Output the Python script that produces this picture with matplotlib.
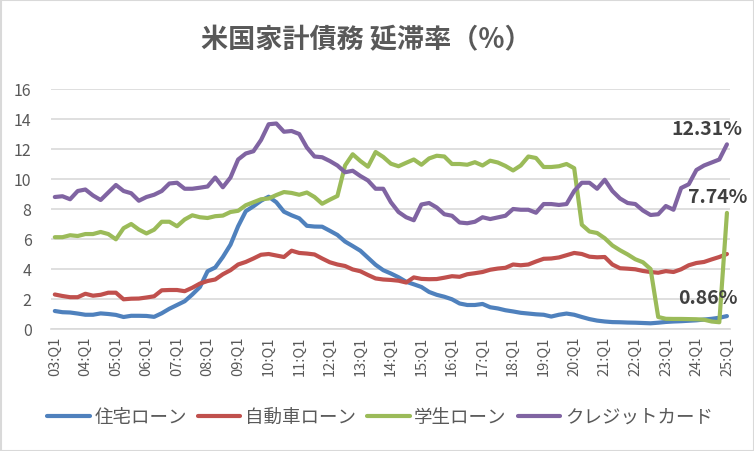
import matplotlib
matplotlib.use("Agg")
import matplotlib.pyplot as plt
from matplotlib.patches import Rectangle

plt.rcParams['font.family'] = ['Noto Sans CJK JP', 'DejaVu Sans']

# quarterly, 2003Q1 .. 2025Q1 (89 points)
quarters = [f"{y:02d}:Q{q}" for y in range(3, 26) for q in range(1, 5)][:89]

mortgage = [1.2, 1.12, 1.1, 1.03, 0.95, 0.95, 1.04, 1.0, 0.94, 0.8,
            0.88, 0.88, 0.87, 0.81, 1.05, 1.35, 1.6, 1.85, 2.3, 2.8,
            3.85, 4.1, 4.8, 5.62, 6.85, 7.85, 8.18, 8.55, 8.82, 8.45,
            7.82, 7.58, 7.38, 6.88, 6.83, 6.82, 6.55, 6.27, 5.83, 5.53,
            5.22, 4.75, 4.28, 3.92, 3.7, 3.45, 3.15, 2.98, 2.8, 2.47,
            2.28, 2.15, 1.98, 1.7, 1.6, 1.6, 1.67, 1.45, 1.37, 1.25,
            1.17, 1.08, 1.03, 0.98, 0.95, 0.83, 0.95, 1.03, 0.95, 0.8,
            0.66, 0.56, 0.5, 0.46, 0.45, 0.43, 0.42, 0.4, 0.38, 0.42,
            0.47, 0.5, 0.52, 0.55, 0.58, 0.63, 0.68, 0.75, 0.86]

auto = [2.3, 2.2, 2.12, 2.12, 2.35, 2.22, 2.28, 2.42, 2.42, 1.98,
        2.02, 2.03, 2.1, 2.18, 2.58, 2.6, 2.6, 2.52, 2.75, 3.03,
        3.2, 3.3, 3.65, 3.92, 4.3, 4.47, 4.7, 4.95, 5.0, 4.9,
        4.8, 5.22, 5.07, 5.03, 4.97, 4.7, 4.45, 4.3, 4.2, 3.97,
        3.85, 3.6, 3.37, 3.3, 3.27, 3.22, 3.1, 3.44, 3.34, 3.32,
        3.33, 3.42, 3.52, 3.48, 3.65, 3.72, 3.8, 3.95, 4.03, 4.08,
        4.3, 4.25, 4.3, 4.5, 4.68, 4.7, 4.77, 4.92, 5.07, 5.0,
        4.82, 4.78, 4.8, 4.3, 4.05, 4.02, 3.98, 3.87, 3.8, 3.75,
        3.86, 3.8, 3.98, 4.25, 4.4, 4.47, 4.64, 4.8, 5.0]

student = [6.12, 6.12, 6.25, 6.2, 6.33, 6.33, 6.47, 6.33, 5.98, 6.72,
           7.0, 6.63, 6.37, 6.62, 7.15, 7.15, 6.85, 7.3, 7.58, 7.45,
           7.4, 7.52, 7.56, 7.8, 7.88, 8.25, 8.45, 8.65, 8.7, 8.93,
           9.13, 9.07, 8.95, 9.1, 8.8, 8.35, 8.62, 8.87, 10.9, 11.65,
           11.2, 10.82, 11.8, 11.47, 11.02, 10.85, 11.08, 11.3, 10.95, 11.37,
           11.55, 11.5, 11.0, 11.0, 10.95, 11.12, 10.9, 11.22, 11.1, 10.87,
           10.57, 10.9, 11.5, 11.4, 10.8, 10.8, 10.85, 11.0, 10.72, 6.95,
           6.5, 6.4, 6.05, 5.57, 5.25, 4.97, 4.65, 4.45, 4.0, 0.8,
           0.68, 0.67, 0.67, 0.66, 0.65, 0.62, 0.5, 0.45, 7.74]

credit_card = [8.8, 8.85, 8.65, 9.2, 9.3, 8.9, 8.6, 9.1, 9.6, 9.2,
               9.05, 8.55, 8.8, 8.95, 9.2, 9.7, 9.75, 9.35, 9.35, 9.42,
               9.5, 10.1, 9.45, 10.1, 11.3, 11.7, 11.85, 12.6, 13.65, 13.7,
               13.15, 13.2, 13.0, 12.1, 11.5, 11.45, 11.2, 10.9, 10.45, 10.55,
               10.2, 9.9, 9.35, 9.35, 8.45, 7.8, 7.45, 7.25, 8.3, 8.4,
               8.1, 7.65, 7.55, 7.1, 7.05, 7.15, 7.45, 7.33, 7.44, 7.55,
               8.0, 7.95, 7.95, 7.75, 8.33, 8.33, 8.27, 8.33, 9.2, 9.75,
               9.75, 9.35, 9.95, 9.2, 8.7, 8.4, 8.33, 7.9, 7.6, 7.65,
               8.2, 7.95, 9.4, 9.65, 10.6, 10.9, 11.1, 11.3, 12.31]

series = [
    ("住宅ローン", mortgage, "#4f81bd"),
    ("自動車ローン", auto, "#c0504d"),
    ("学生ローン", student, "#9bbb59"),
    ("クレジットカード", credit_card, "#8064a2"),
]

txt = "#595959"

fig = plt.figure(figsize=(7.54, 4.52), dpi=100)
ax = fig.add_axes([51 / 754, 122 / 452, 679 / 754, 240 / 452])

x = list(range(len(quarters)))
for name, vals, col in series:
    ax.plot(x, vals, color=col, lw=3.0, label=name, solid_capstyle='round',
            solid_joinstyle='round')

ax.set_xlim(-0.5, 88.4)
ax.set_ylim(0, 16)
ax.set_yticks(range(0, 17, 2))
ax.set_xticks(x[::4])
ax.set_xticklabels(quarters[::4], rotation=90, fontsize=10.5, color=txt)
ax.tick_params(axis='y', labelsize=11.5, labelcolor=txt, length=0, pad=14)
ax.tick_params(axis='x', length=0, pad=5)
ax.grid(axis='y', color="#d9d9d9", lw=1.2)
ax.set_axisbelow(True)
for s in ["left", "right", "top"]:
    ax.spines[s].set_visible(False)
ax.spines["bottom"].set_color("#d9d9d9")
ax.spines["bottom"].set_linewidth(1.2)

# end-point labels
last = len(quarters) - 1
for vals, (dx, dy) in [(credit_card, (-20, 16)), (student, (-9, 16)), (mortgage, (-19, 19))]:
    ax.annotate(f"{vals[-1]:.2f}%", xy=(last, vals[-1]), xytext=(dx, dy),
                textcoords='offset pixels', ha='center', va='center',
                fontsize=14, fontweight='bold', color="#404040")

fig.text(366 / 754, 1 - 40 / 452, "米国家計債務 延滞率（%）", ha='center', va='center',
         fontsize=19.5, color=txt, fontweight='bold')

fig.legend(loc='center', bbox_to_anchor=(380 / 754, 1 - 418 / 452), ncol=4,
           frameon=False, fontsize=13.3, handlelength=2.3, handletextpad=0.25,
           columnspacing=0.6, labelcolor=txt)

fig.add_artist(Rectangle((0.5 / 754, 0.5 / 452), 1 - 1 / 754, 1 - 1 / 452,
                         transform=fig.transFigure, fill=False,
                         edgecolor="#d9d9d9", lw=1.5))

fig.savefig("out.png", dpi=100)
